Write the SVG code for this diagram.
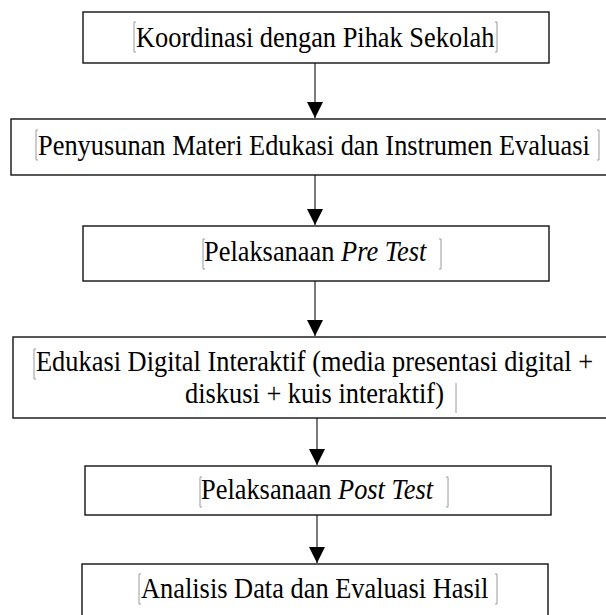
<svg xmlns="http://www.w3.org/2000/svg" width="606" height="615" viewBox="0 0 606 615">
  <style>
    .box { fill: #ffffff; stroke: #111111; stroke-width: 1.4; }
    .lbl { font-family: "Liberation Serif", "Times New Roman", serif; font-size: 26.4px; fill: #000000; }
    .it { font-style: italic; }
    .mark { fill: none; stroke: #9a9a9a; stroke-width: 1; }
    .conn { stroke: #222222; stroke-width: 1.2; fill: none; }
  </style>
  <defs>
    <marker id="ah" viewBox="0 0 16 16" refX="16" refY="8" markerWidth="16" markerHeight="16" markerUnits="userSpaceOnUse" orient="auto">
      <path d="M0,0 L16,8 L0,16 Z" fill="#000000"/>
    </marker>
  </defs>
  <rect width="606" height="615" fill="#ffffff"/>

  <g id="connectors">
    <line class="conn" x1="315" y1="63" x2="315" y2="118" marker-end="url(#ah)"/>
    <line class="conn" x1="315" y1="175" x2="315" y2="225" marker-end="url(#ah)"/>
    <line class="conn" x1="315" y1="281" x2="315" y2="336" marker-end="url(#ah)"/>
    <line class="conn" x1="317" y1="418" x2="317" y2="465" marker-end="url(#ah)"/>
    <line class="conn" x1="317" y1="515" x2="317" y2="563" marker-end="url(#ah)"/>
  </g>

  <g id="node1">
    <rect class="box" x="83" y="12" width="466" height="51"/>
    <path class="mark" d="M136,22 H134 V52 H136 M495,22 H497 V52 H495"/>
    <text class="lbl" transform="translate(136,47) scale(1,1.12)">Koordinasi dengan Pihak Sekolah</text>
  </g>

  <g id="node2">
    <rect class="box" x="11" y="119" width="610" height="56"/>
    <path class="mark" d="M38,130 H36 V160 H38 M597,130 H599 V160 H597"/>
    <text class="lbl" transform="translate(38,155) scale(1,1.12)">Penyusunan Materi Edukasi dan Instrumen Evaluasi</text>
  </g>

  <g id="node3">
    <rect class="box" x="83" y="226" width="466" height="55"/>
    <path class="mark" d="M205,239 H203 V269 H205 M439,239 H441 V269 H439"/>
    <text class="lbl" transform="translate(204,261) scale(1,1.12)">Pelaksanaan <tspan class="it">Pre Test</tspan></text>
  </g>

  <g id="node4">
    <rect class="box" x="13" y="337" width="610" height="81"/>
    <path class="mark" d="M36,349 H34 V379 H36 M456,383 V413"/>
    <text class="lbl" transform="translate(36,371) scale(1,1.12)">Edukasi Digital Interaktif (media presentasi digital +</text>
    <text class="lbl" transform="translate(185,403) scale(1,1.12)">diskusi + kuis interaktif)</text>
  </g>

  <g id="node5">
    <rect class="box" x="85" y="466" width="466" height="49"/>
    <path class="mark" d="M202,477 H200 V507 H202 M446,477 H448 V507 H446"/>
    <text class="lbl" transform="translate(201,499) scale(1,1.12)">Pelaksanaan <tspan class="it">Post Test</tspan></text>
  </g>

  <g id="node6">
    <rect class="box" x="82" y="564" width="466" height="60"/>
    <path class="mark" d="M141,574 H139 V604 H141 M495,574 H497 V604 H495"/>
    <text class="lbl" transform="translate(141,598) scale(1,1.12)">Analisis Data dan Evaluasi Hasil</text>
  </g>
</svg>
